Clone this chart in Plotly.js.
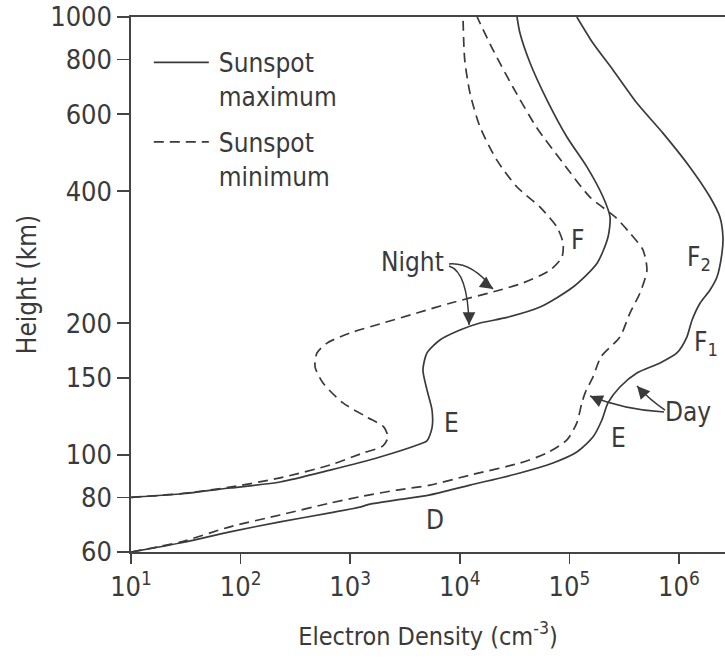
<!DOCTYPE html>
<html><head><meta charset="utf-8">
<script src="https://cdn.plot.ly/plotly-3.0.1.min.js"></script>
<style>html,body{margin:0;padding:0;background:#fff}#chart{width:725px;height:660px}</style>
</head><body><div id="chart"></div>
<script>
// Electron density (cm^-3) vs height (km)
var nightMaxN = [10, 28, 80, 229, 655, 1870, 4340, 5020, 5580, 5580, 5020, 4610, 5020, 6590, 10050, 15300, 27000, 54000, 108000, 179000, 225000, 235000, 203000, 145000, 95000, 62500, 43800, 35400, 33300];
var nightMaxH = [80, 81.4, 84, 86.7, 92.3, 98.9, 105.9, 107.6, 115.2, 126.6, 140.7, 156.3, 170.9, 183, 192.8, 200, 206, 217.5, 241.7, 274, 314, 349, 388, 454, 532, 646, 785, 919, 1000];

var nightMinN = [10, 28, 80, 229, 655, 1310, 1990, 2210, 2030, 1420, 859, 565, 478, 498, 614, 995, 1990, 4060, 8150, 23300, 37800, 66600, 85600, 87500, 77100, 54000, 33300, 21800, 15300, 12400, 11100, 10700];
var nightMinH = [80, 81.5, 84.4, 88.6, 94.8, 101, 104.8, 109.8, 115.7, 122, 131.4, 145.9, 158.8, 170.9, 180, 189.8, 200, 210.8, 222, 238, 247, 264, 283, 305, 331, 368, 409, 471, 561, 670, 797, 1000];

var dayMaxN = [10, 28, 80, 229, 655, 1228, 1517, 2674, 5350, 12400, 35400, 70800, 117000, 164000, 198000, 225000, 289000, 413000, 670000, 957000, 1180000, 1315000, 1556000, 1920000, 2222000, 2468000, 2520000, 2366000, 1920000, 1259000, 714000, 413000, 250000, 164000, 117000];
var dayMaxH = [60, 62.9, 66.7, 70.3, 73.7, 76, 77.2, 78.9, 81, 85.3, 90.9, 95.8, 101.5, 109.8, 120.1, 131.4, 142.9, 153.8, 162.1, 170.9, 185.8, 203, 222, 238, 254.8, 289, 314, 349, 388, 454, 543, 636, 757, 872, 1000];

var dayMinN = [10, 28, 80, 229, 655, 1310, 2674, 5350, 12400, 35400, 62500, 95000, 117000, 130000, 139000, 164000, 194000, 289000, 357000, 440000, 510000, 469000, 357000, 263000, 154000, 87500, 50600, 30500, 20100, 14400];
var dayMinH = [60, 63.2, 68.5, 72.9, 77.6, 80.5, 83.1, 85.3, 89.9, 95.8, 101, 108.2, 118.3, 131.4, 138.4, 150.5, 167.3, 185.8, 210.8, 234, 264, 294, 321, 349, 388, 464, 558, 692, 841, 1000];

var xTickVals = [10, 100, 1000, 10000, 100000, 1000000];
var xTickText = ['10<sup>1</sup>', '10<sup>2</sup>', '10<sup>3</sup>', '10<sup>4</sup>', '10<sup>5</sup>', '10<sup>6</sup>'];
var yTickVals = [60, 80, 100, 150, 200, 400, 600, 800, 1000];
var yTickText = ['60', '80', '100', '150', '200', '400', '600', '800', '1000'];

var legendNames = ['Sunspot<br>maximum', 'Sunspot<br>minimum'];

var FONT = '"Liberation Sans Narrow", "DejaVu Sans Condensed", "Open Sans", sans-serif';
var INK = '#3a3a3a';

function curve(n, h, dash, name, show, group) {
  return {
    x: n, y: h, type: 'scatter', mode: 'lines',
    line: {color: INK, width: 1.7, dash: dash, shape: 'spline', smoothing: 0.7},
    name: name, showlegend: show, legendgroup: group, hoverinfo: 'x+y'
  };
}

var data = [
  curve(nightMaxN, nightMaxH, 'solid', legendNames[0], true, 'max'),
  curve(dayMaxN, dayMaxH, 'solid', legendNames[0], false, 'max'),
  curve(nightMinN, nightMinH, '10px,6px', legendNames[1], true, 'min'),
  curve(dayMinN, dayMinH, '10px,6px', legendNames[1], false, 'min')
];

function lab(text, x, y) {
  return {text: text, x: x, y: y, xref: 'paper', yref: 'paper', showarrow: false,
          xanchor: 'center', yanchor: 'middle',
          font: {family: FONT, size: 26, color: INK}};
}
function head(x, y, ax, ay) {
  return {text: '', x: x, y: y, xref: 'paper', yref: 'paper', showarrow: true,
          ax: ax, ay: ay, arrowhead: 2, arrowsize: 1.7, arrowwidth: 1.5, arrowcolor: INK, standoff: 0};
}

var annotations = [
  lab('F', 0.751, 0.583),
  lab('F<sub>2</sub>', 0.957, 0.548),
  lab('F<sub>1</sub>', 0.968, 0.39),
  lab('E', 0.540, 0.241),
  lab('E', 0.820, 0.213),
  lab('D', 0.512, 0.060),
  lab('Night', 0.474, 0.542),
  lab('Day', 0.937, 0.262),
  head(0.6094, 0.4916, -10, -7),
  head(0.5690, 0.4243, 0, -12),
  head(0.7727, 0.2916, 11, 5),
  head(0.8519, 0.3103, 8, 9)
];

var shapes = [
  {type: 'path', xref: 'paper', yref: 'paper', path: 'M0.5354,0.5383 Q0.5741,0.5421 0.6094,0.4916', line: {color: INK, width: 1.5}},
  {type: 'path', xref: 'paper', yref: 'paper', path: 'M0.5354,0.5346 Q0.5673,0.5234 0.5690,0.4243', line: {color: INK, width: 1.5}},
  {type: 'path', xref: 'paper', yref: 'paper', path: 'M0.8973,0.2617 Q0.8316,0.2654 0.7727,0.2916', line: {color: INK, width: 1.5}},
  {type: 'path', xref: 'paper', yref: 'paper', path: 'M0.8990,0.2654 Q0.8737,0.2841 0.8519,0.3103', line: {color: INK, width: 1.5}}
];

var layout = {
  width: 725, height: 660,
  margin: {l: 131, r: 0, t: 17, b: 108},
  paper_bgcolor: '#ffffff', plot_bgcolor: '#ffffff',
  font: {family: FONT, color: INK},
  showlegend: true,
  legend: {x: 0.03, y: 0.959, xanchor: 'left', yanchor: 'top', valign: 'top',
           itemwidth: 60,
           font: {family: FONT, size: 26, color: INK}, bgcolor: 'rgba(0,0,0,0)',
           traceorder: 'grouped', tracegroupgap: 9},
  xaxis: {
    type: 'log', range: [1, 6.42],
    tickvals: xTickVals, ticktext: xTickText,
    ticks: 'outside', ticklen: 10, tickwidth: 1.5, tickcolor: '#444',
    showline: true, linecolor: '#444', linewidth: 1.6, mirror: true,
    showgrid: false, zeroline: false,
    tickfont: {family: FONT, size: 27, color: INK},
    title: {text: 'Electron Density (cm<sup>-3</sup>)', font: {family: FONT, size: 25, color: INK}, standoff: 26}
  },
  yaxis: {
    type: 'log', range: [Math.log10(60), 3],
    tickvals: yTickVals, ticktext: yTickText,
    ticks: 'outside', ticklen: 12, tickwidth: 1.5, tickcolor: '#444',
    showline: true, linecolor: '#444', linewidth: 1.6,
    showgrid: false, zeroline: false,
    tickfont: {family: FONT, size: 27, color: INK},
    title: {text: 'Height (km)', font: {family: FONT, size: 26, color: INK}, standoff: 6}
  },
  annotations: annotations,
  shapes: shapes
};

Plotly.newPlot('chart', data, layout, {displayModeBar: false, staticPlot: true}).then(function (gd) {
  // lengthen the legend line samples to match the reference key
  var paths = gd.querySelectorAll('.legend .legendlines path');
  for (var i = 0; i < paths.length; i++) paths[i].setAttribute('d', 'M5,0h55');
});
</script></body></html>
